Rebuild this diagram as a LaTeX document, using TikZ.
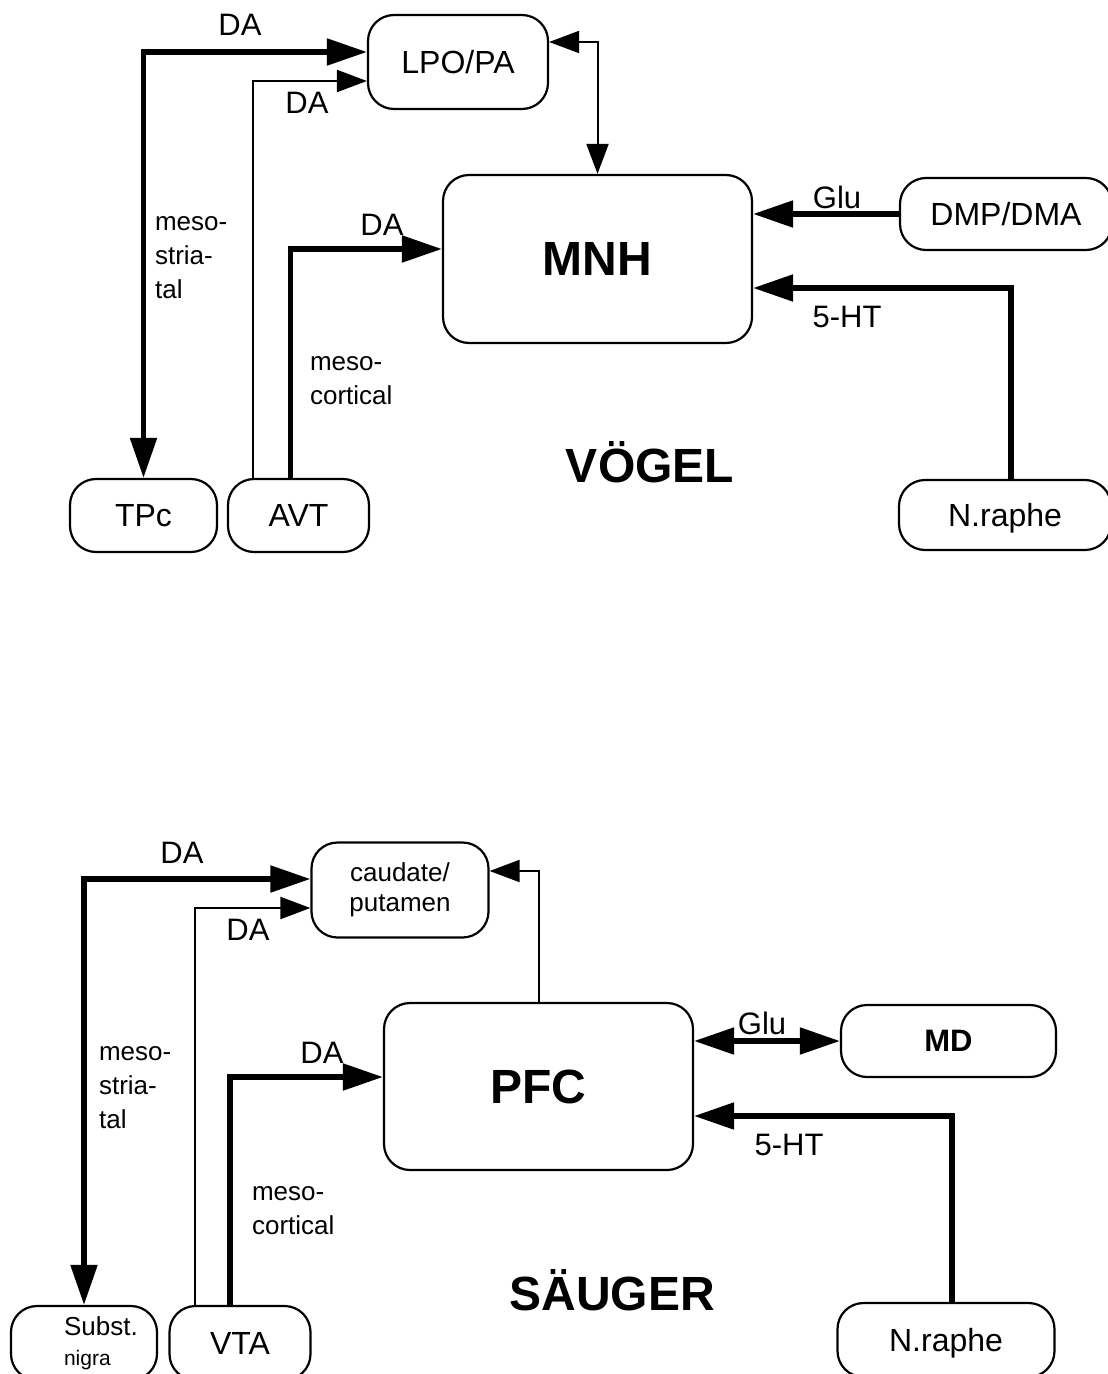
\documentclass[tikz,border=0pt]{standalone}
\usepackage{fontspec}
\setmainfont{Liberation Sans}
\usetikzlibrary{calc}
\usetikzlibrary{positioning}
\usetikzlibrary{arrows.meta}

\tikzset{
	areabox/.style={draw, line width=1.1pt, rounded corners=13pt, inner sep=0pt, align=center, font=\fontsize{16}{19}\selectfont},
	thk/.style={line width=2.6pt, >={Triangle[length=20pt, width=13pt]}},
	thn/.style={line width=1pt, >={Triangle[length=15pt, width=11pt]}},
	lbl/.style={font=\fontsize{15.5}{18}\selectfont},
	sidelbl/.style={font=\fontsize{13}{17}\selectfont, align=left, anchor=west},
	bigtitle/.style={font=\bfseries\fontsize{24}{28}\selectfont}
}

\begin{document}
\begin{tikzpicture}[x=0.5pt, y=-0.5pt]
			\useasboundingbox[fill=white] (0,0) rectangle (1107,1374);

			% Voegel
			\node[areabox, minimum width=90pt, minimum height=47pt] (lpo) at (458,62) {LPO/PA};
			\node[areabox, minimum width=154.5pt, minimum height=84pt, font=\bfseries\fontsize{24}{28}\selectfont] (mnh) at (597.5,259) {MNH};
			\node[areabox, minimum width=106pt, minimum height=36pt] (dmp) at (1006,214) {DMP/DMA};
			\node[areabox, minimum width=106pt, minimum height=35pt, text depth=0pt] (raphea) at (1005,515) {N.raphe};
			\node[areabox, minimum width=73.5pt, minimum height=36.5pt] (tpc) at (143.5,515.5) {TPc};
			\node[areabox, minimum width=70.5pt, minimum height=36.5pt] (avt) at (298.5,515.5) {AVT};

			\draw[thk, <->] (tpc.north) |- ($(lpo.west)+(0,-10)$);
			\draw[thn, ->] ($(avt.north)+(-46,0)$) |- ($(lpo.west)+(0,19)$);
			\draw[thk, ->] ($(avt.north)+(-8,0)$) |- ($(mnh.west)+(0,-10)$);
			\draw[thn, <->] ($(lpo.east)+(0,-20)$) -| (mnh.north);
			\draw[thk, ->] (dmp.west) -- (dmp.west -| mnh.east);
			\draw[thk, ->] ($(raphea.north)+(6,0)$) |- ($(mnh.east)+(0,29)$);

			\node[lbl] (daa) at (240,25) {DA};
			\node[lbl] (dab) at (307,103) {DA};
			\node[lbl] (dac) at (382,225) {DA};
			\node[lbl] (glua) at (837,197) {Glu};
			\node[lbl] (hta) at (847,317) {5-HT};
			\node[sidelbl] (striata) at (148,258) {meso-\\stria-\\tal};
			\node[sidelbl] (corta) at (303,381) {meso-\\cortical};
			\node[bigtitle] (voegel) at (650,462) {VÖGEL};

			% Saeuger
			\node[areabox, minimum width=88.5pt, minimum height=47.5pt, font=\fontsize{13}{15}\selectfont] (caud) at (400,890) {caudate/\\putamen};
			\node[areabox, minimum width=154.5pt, minimum height=83.5pt, font=\bfseries\fontsize{24}{28}\selectfont] (pfc) at (538.5,1086.5) {PFC};
			\node[areabox, minimum width=107.5pt, minimum height=36pt, font=\bfseries\fontsize{15.5}{18}\selectfont] (md) at (948.5,1041) {MD};
			\node[areabox, minimum width=108.5pt, minimum height=37pt, text depth=0pt] (rapheb) at (946,1340) {N.raphe};
			\node[areabox, minimum width=73pt, minimum height=37pt] (subst) at (84,1343) {};
			\node[areabox, minimum width=70.5pt, minimum height=37pt] (vta) at (240,1343) {VTA};
			\node[sidelbl, font=\fontsize{13}{15}\selectfont] (substtext) at ($(subst.center)+(-27,0)$) {Subst.\\{\fontsize{10.5}{12}\selectfont nigra}};

			\draw[thk, <->] (subst.north) |- ($(caud.west)+(0,-11)$);
			\draw[thn, ->] ($(vta.north)+(-45,0)$) |- ($(caud.west)+(0,18)$);
			\draw[thk, ->] ($(vta.north)+(-10,0)$) |- ($(pfc.west)+(0,-9.5)$);
			\draw[thn, ->] (pfc.north) |- ($(caud.east)+(0,-19)$);
			\draw[thk, <->] (pfc.east |- md.west) -- (md.west);
			\draw[thk, ->] ($(rapheb.north)+(6,0)$) |- ($(pfc.east)+(0,29.5)$);

			\node[lbl] (dad) at (182,853) {DA};
			\node[lbl] (dae) at (248,930) {DA};
			\node[lbl] (daf) at (322,1053) {DA};
			\node[lbl] (glub) at (762,1023) {Glu};
			\node[lbl] (htb) at (789,1145) {5-HT};
			\node[sidelbl] (striatb) at (92,1088) {meso-\\stria-\\tal};
			\node[sidelbl] (cortb) at (245,1211) {meso-\\cortical};
			\node[bigtitle] (saeuger) at (612,1290) {SÄUGER};
\end{tikzpicture}
\end{document}
